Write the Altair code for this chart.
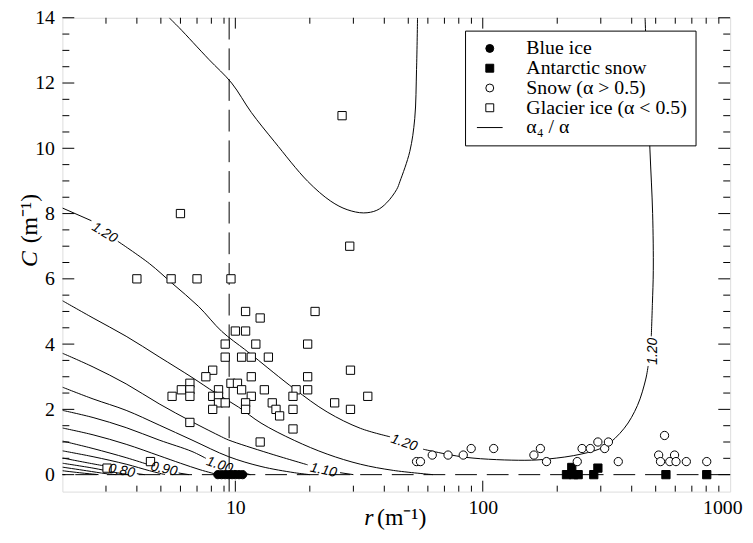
import altair as alt
import pandas as pd

FONT = "Liberation Serif"
W, H = 675, 479

# ---------------- data ----------------
blue_r = [8.5, 8.8, 9.1, 9.4, 9.7, 10.0, 10.35, 10.7]
blue_c = [0, 0, 0, 0, 0, 0, 0, 0]

ant_r = [218, 229, 233, 243, 281, 292, 550, 804]
ant_c = [0, 0.22, 0, 0, 0, 0.2, 0, 0]

snow_r = [54, 56, 62.5, 72.4, 83.4, 89.8, 110.7, 161, 171, 181, 241, 252, 272, 292,
          311, 322, 353, 543, 514, 523, 570, 596, 604, 665, 804]
snow_c = [0.4, 0.4, 0.6, 0.6, 0.6, 0.8, 0.8, 0.6, 0.8, 0.4, 0.4, 0.8, 0.8, 1.0,
          0.8, 1.0, 0.4, 1.2, 0.6, 0.4, 0.4, 0.6, 0.4, 0.4, 0.4]

glacier_r = [4.0, 5.5, 7.0, 9.6, 6.0, 27, 29, 11.0, 21, 12.6, 10.0, 11.0, 9.1, 12.1,
             19.6, 9.1, 10.6, 11.6, 13.6, 8.1, 7.6, 11.6, 19.6, 29.2, 6.55, 9.6, 10.2,
             6.05, 6.55, 8.55, 10.6, 13.1, 17.6, 19.6, 5.55, 6.55, 8.1, 8.55, 11.6, 17.1,
             34.3, 8.55, 9.1, 11.0, 14.1, 25.2, 8.1, 11.0, 14.6, 17.1, 29.2, 15.1, 6.55,
             17.1, 12.6, 4.54, 3.03]
glacier_c = [6, 6, 6, 6, 8, 11, 7, 5, 5, 4.8, 4.4, 4.4, 4.0, 4.0,
             4.0, 3.6, 3.6, 3.6, 3.6, 3.2, 3.0, 3.0, 3.0, 3.2, 2.8, 2.8, 2.8,
             2.6, 2.6, 2.6, 2.6, 2.6, 2.6, 2.6, 2.4, 2.4, 2.4, 2.4, 2.4, 2.4,
             2.4, 2.2, 2.2, 2.2, 2.2, 2.2, 2.0, 2.0, 2.0, 2.0, 2.0, 1.8, 1.6,
             1.4, 1.0, 0.4, 0.2]

# contour lines alpha4/alpha (None = gap where a label sits)
c125_r = [5.4, 5.92, 7.8, 9.66, 11.6, 14.4, 19.6, 24.3, 28.3, 33.0, 37.3, 40.9, 44.9,
          46.3, 50.7, 53.1, 54.0, 54.5]
c125_c = [14.0, 13.7, 12.73, 12.0, 11.1, 10.2, 8.99, 8.38, 8.12, 8.02, 8.10, 8.33, 8.74,
          8.99, 9.9, 10.91, 12.42, 14.0]
c120_r = [2.0, 2.62, None, 3.35, 4.49, 5.56, 7.11, 8.81, 10.9, 12.0, 17.3, 23.5, 32.0, 42.2,
          None, 57.4, 85.5, 148, 184, 250, 310, 373, 422, 456, 466,
          None, 480, 485, 489, 486, 474, 463, 453]
c120_c = [8.17, 7.78, None, 7.15, 6.47, 5.86, 5.15, 4.39, 3.84, 3.59, 2.63, 1.92, 1.42, 1.16,
          None, 0.78, 0.53, 0.44, 0.48, 0.63, 0.86, 1.42, 2.12, 2.93, 3.33,
          None, 4.24, 5.25, 6.26, 8.0, 9.95, 12.0, 14.0]
c115_r = [2.0, 2.66, 3.62, 4.92, 6.68, 8.29, 10.3, 12.7, 17.3, 23.5, 32.0, 43.5, 62.9]
c115_c = [5.33, 4.80, 4.24, 3.61, 2.98, 2.51, 2.07, 1.58, 1.05, 0.63, 0.32, 0.13, 0.0]
c110_r = [2.0, 2.66, 3.62, 4.92, 6.68, 8.8, 9.4, 13.6, 19.6, None, 26.5, 30]
c110_c = [3.72, 3.30, 2.78, 2.17, 1.62, 1.16, 1.06, 0.66, 0.30, None, 0.06, 0.0]
c105_r = [2.0, 2.66, 3.62, 4.92, 6.68, 9.4, 12.7, 17.3, 20]
c105_c = [2.68, 2.32, 1.97, 1.52, 1.06, 0.55, 0.25, 0.06, 0.0]
c100_r = [2.0, 2.66, 3.62, 4.92, 6.68, 7.6, None, 9.9, 11.5]
c100_c = [1.97, 1.75, 1.44, 1.06, 0.71, 0.50, None, 0.13, 0.0]
c095_r = [2.0, 2.66, 3.62, 4.92, 6.0, 7.2, 8.5]
c095_c = [1.43, 1.22, 0.93, 0.58, 0.35, 0.15, 0.0]
c090_r = [2.0, 2.66, 3.62, 4.4, None, 5.9, 6.5]
c090_c = [1.03, 0.80, 0.52, 0.32, None, 0.05, 0.0]
c085_r = [2.0, 2.66, 3.62, 4.5, 5.2]
c085_c = [0.73, 0.55, 0.32, 0.12, 0.0]
c080_r = [2.0, 2.66, 3.0, None, 4.0, 4.3]
c080_c = [0.51, 0.33, 0.26, None, 0.03, 0.0]
c075_r = [2.0, 2.66, 3.2, 3.7]
c075_c = [0.35, 0.20, 0.08, 0.0]
c070_r = [2.0, 2.5, 3.0, 3.3]
c070_c = [0.23, 0.12, 0.03, 0.0]
c065_r = [2.0, 2.4, 2.8]
c065_c = [0.12, 0.05, 0.0]

label_text = ["1.20", "1.20", "1.20", "1.10", "1.00", "0.90", "0.80"]
label_r = [2.96, 48.1, 488, 22.7, 8.63, 5.15, 3.47]
label_c = [7.41, 0.97, 3.78, 0.13, 0.29, 0.17, 0.11]
label_angle = [31, 19, 270, 12, 18, 12, 10]

vline_r = [9.44]
hline_c = [0]

types = ["Blue ice", "Antarctic snow", "Snow (\u03b1 > 0.5)",
         "Glacier ice (\u03b1 < 0.5)", "\u03b1\u2084 / \u03b1"]

x_major = [10, 100]
x_minor = [3, 4, 5, 6, 7, 8, 9, 20, 30, 40, 50, 60, 70, 80, 90,
           200, 300, 400, 500, 600, 700, 800, 900]
y_major = [0, 2, 4, 6, 8, 10, 12, 14]
y_minor = [0.5, 1, 1.5, 2.5, 3, 3.5, 4.5, 5, 5.5, 6.5, 7, 7.5, 8.5, 9, 9.5,
           10.5, 11, 11.5, 12.5, 13, 13.5]

# ---------------- tables ----------------
pts = pd.concat([
    pd.DataFrame({"r": blue_r, "c": blue_c, "type": types[0]}),
    pd.DataFrame({"r": ant_r, "c": ant_c, "type": types[1]}),
    pd.DataFrame({"r": snow_r, "c": snow_c, "type": types[2]}),
    pd.DataFrame({"r": glacier_r, "c": glacier_c, "type": types[3]}),
], ignore_index=True)

contour_sets = [
    ("1.25", c125_r, c125_c), ("1.20", c120_r, c120_c), ("1.15", c115_r, c115_c),
    ("1.10", c110_r, c110_c), ("1.05", c105_r, c105_c), ("1.00", c100_r, c100_c),
    ("0.95", c095_r, c095_c), ("0.90", c090_r, c090_c), ("0.85", c085_r, c085_c),
    ("0.80", c080_r, c080_c), ("0.75", c075_r, c075_c), ("0.70", c070_r, c070_c),
    ("0.65", c065_r, c065_c),
]
rows = []
for lvl, rs, cs in contour_sets:
    seg = 0
    for rv, cv in zip(rs, cs):
        if rv is None:
            seg += 1
            continue
        rows.append({"r": rv, "c": cv, "seg": f"{lvl}-{seg}", "o": len(rows)})
cont = pd.DataFrame(rows)

labels = pd.DataFrame({"r": label_r, "c": label_c, "t": label_text, "a": label_angle})

# ---------------- scales / axes ----------------
x_scale = alt.Scale(type="log", domain=[2, 1000], nice=False)
y_scale = alt.Scale(domain=[-0.52, 14], nice=False, zero=False)

x_axis = alt.Axis(values=[10, 100, 1000], format="d", title=None, ticks=False,
                  domain=False, grid=False, labelFont=FONT, labelFontSize=20,
                  labelColor="black", labelPadding=6, labelFlush=True,
                  labelFlushOffset=12)
y_axis = alt.Axis(values=y_major, title=None, ticks=False, domain=False, grid=False,
                  labelFont=FONT, labelFontSize=20, labelColor="black",
                  labelPadding=8, labelFlush=False)

X = alt.X("r:Q", scale=x_scale, axis=x_axis)
Y = alt.Y("c:Q", scale=y_scale, axis=y_axis)

contours = alt.Chart(cont).mark_line(color="black", strokeWidth=1, clip=True,
                                      interpolate="catmull-rom").encode(
    x=X, y=Y, detail="seg:N", order="o:Q")

vline = alt.Chart(pd.DataFrame({"r": vline_r})).mark_rule(
    color="black", strokeWidth=1, strokeDash=[22, 9]).encode(x=X)
hline = alt.Chart(pd.DataFrame({"c": hline_c})).mark_rule(
    color="black", strokeWidth=1, strokeDash=[22, 10]).encode(y=Y)

def xticks(vals, length):
    d = pd.DataFrame({"r": vals})
    bot = alt.Chart(d).mark_rule(color="black", strokeWidth=1).encode(
        x=X, y=alt.value(H), y2=alt.value(H - length))
    top = alt.Chart(d).mark_rule(color="black", strokeWidth=1).encode(
        x=X, y=alt.value(0), y2=alt.value(length))
    return [bot, top]

def yticks(vals, length):
    d = pd.DataFrame({"c": vals})
    left = alt.Chart(d).mark_rule(color="black", strokeWidth=1).encode(
        y=Y, x=alt.value(0), x2=alt.value(length))
    right = alt.Chart(d).mark_rule(color="black", strokeWidth=1).encode(
        y=Y, x=alt.value(W), x2=alt.value(W - length))
    return [left, right]

ticks = xticks(x_major, 11) + xticks(x_minor, 6) + yticks(y_major, 12) + yticks(y_minor, 7)

leg = alt.Legend(title=None, orient="none", legendX=407, legendY=13,
                 fillColor="white", strokeColor="black", padding=8,
                 labelFont=FONT, labelFontSize=20, labelColor="black",
                 rowPadding=0, clipHeight=20, gridAlign="all", symbolOffset=7,
                 labelOffset=27, labelLimit=400, symbolStrokeWidth=1,
                 symbolSize=64)

points = alt.Chart(pts).mark_point(filled=True, strokeWidth=1, opacity=1, size=70).encode(
    x=X, y=Y,
    shape=alt.Shape("type:N", scale=alt.Scale(domain=types,
                    range=["circle", "square", "circle", "square", "M-3.25,0H3.25"]),
                    legend=leg),
    fill=alt.Fill("type:N", scale=alt.Scale(domain=types,
                  range=["black", "black", "white", "white", "transparent"]), legend=leg),
    stroke=alt.Stroke("type:N", scale=alt.Scale(domain=types,
                      range=["black", "black", "black", "black", "black"]), legend=leg),
)

clabels = alt.Chart(labels).mark_text(font="Liberation Sans", fontStyle="italic",
                                      fontSize=14, color="black", align="center",
                                      baseline="middle").encode(
    x=X, y=Y, text="t:N", angle=alt.Angle("a:Q", scale=None))

def txt(s, x, y, angle=0, italic=False, align="left", baseline="alphabetic"):
    return alt.Chart(pd.DataFrame({"t": [s]})).mark_text(
        font=FONT, fontSize=24, color="black", angle=angle, align=align,
        baseline=baseline, fontStyle="italic" if italic else "normal").encode(
        text="t:N", x=alt.value(x), y=alt.value(y))

titles = [
    txt("C", -33, 252, angle=270, italic=True, baseline="middle"),
    txt("(m\u207b\u00b9)", -33, 228, angle=270, baseline="middle"),
    txt("r", 305, 513, italic=True),
    txt("(m\u207b\u00b9)", 318, 513),
]

chart = alt.layer(contours, vline, hline, *ticks, points, clabels, *titles).properties(
    width=W, height=H,
    autosize=alt.AutoSizeParams(type="none"),
    padding={"left": 55, "top": 7, "right": 15, "bottom": 41},
).configure_view(stroke="black", strokeWidth=1).configure(background="white")

chart.save("out.html", embed_options={"renderer": "svg", "actions": False})
